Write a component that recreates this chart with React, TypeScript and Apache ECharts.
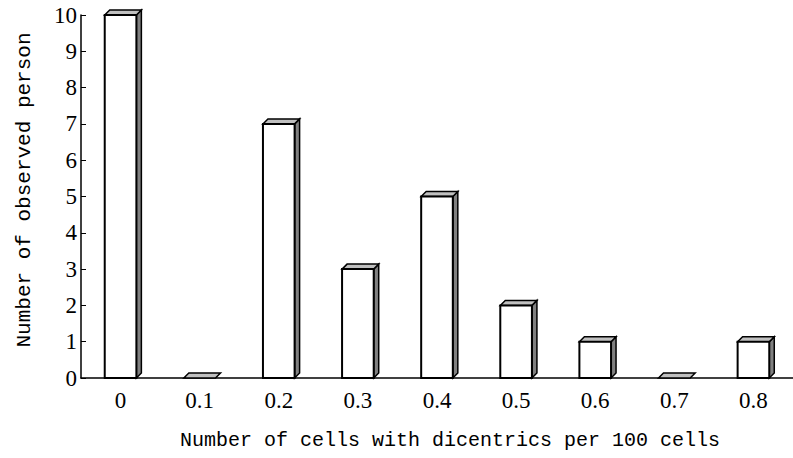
import React, { useEffect, useRef } from "react";
import * as echarts from "echarts";

const categories = ["0", "0.1", "0.2", "0.3", "0.4", "0.5", "0.6", "0.7", "0.8"];
const persons = [10, 0, 7, 3, 5, 2, 1, 0, 1];
const yTicks = [0, 1, 2, 3, 4, 5, 6, 7, 8, 9, 10];
const xTitle = "Number of cells with dicentrics per 100 cells";
const yTitle = "Number of observed person";

const FONT = "'Liberation Mono', 'DejaVu Sans Mono', monospace";
const TICKFONT = "'Liberation Serif', 'DejaVu Serif', serif";

export default function App() {
  const ref = useRef<HTMLDivElement>(null);
  useEffect(() => {
    document.body.style.margin = "0";
    const chart = echarts.init(ref.current!, undefined, { renderer: "svg" });
    const option: any = {
      animation: false,
      backgroundColor: "#fff",
      grid: { left: 81, top: 15, width: 716, height: 363, containLabel: false },
      xAxis: {
        type: "category",
        data: categories,
        boundaryGap: true,
        axisLine: { lineStyle: { color: "#000", width: 1.5 } },
        axisTick: { inside: true, length: 4, alignWithLabel: false, interval: 0, lineStyle: { color: "#000", width: 1 } },
        axisLabel: { fontFamily: TICKFONT, fontSize: 23, color: "#000", margin: 11, interval: 0 },
        splitLine: { show: false },
      },
      yAxis: {
        type: "value",
        min: yTicks[0],
        max: yTicks[yTicks.length - 1],
        interval: 1,
        axisLine: { show: true, lineStyle: { color: "#000", width: 1.5 } },
        axisTick: { show: true, inside: true, length: 5, lineStyle: { color: "#000", width: 1 } },
        axisLabel: { fontFamily: TICKFONT, fontSize: 23, color: "#000", margin: 4 },
        splitLine: { show: false },
      },
      graphic: [
        {
          type: "text",
          x: 24,
          y: 190,
          rotation: Math.PI / 2,
          style: {
            text: yTitle,
            font: `21px ${FONT}`,
            fill: "#000",
            align: "center",
            verticalAlign: "middle",
          },
        },
        {
          type: "text",
          x: 450,
          y: 440,
          style: {
            text: xTitle,
            font: `20px ${FONT}`,
            fill: "#000",
            align: "center",
            verticalAlign: "middle",
          },
        },
      ],
      series: [
        {
          type: "custom",
          data: persons.map((v, i) => [i, v]),
          encode: { x: 0, y: 1 },
          clip: false,
          renderItem: (params: any, api: any) => {
            const idx = api.value(0);
            const val = api.value(1);
            const base = api.coord([idx, 0]);
            const top = api.coord([idx, val]);
            const band = api.size([1, 0])[0];
            const w = band * 0.4;
            const x0 = base[0] - w / 2;
            const x1 = base[0] + w / 2;
            const yb = base[1];
            const yt = top[1];
            const d = 5;
            const children: any[] = [];
            if (yb - yt > 0.5) {
              children.push({
                type: "polygon",
                shape: { points: [[x1, yb], [x1 + d, yb - d], [x1 + d, yt - d], [x1, yt]] },
                style: { fill: "#808080", stroke: "#000", lineWidth: 1.5 },
              });
            }
            children.push({
              type: "polygon",
              shape: { points: [[x0, yt], [x1, yt], [x1 + d, yt - d], [x0 + d, yt - d]] },
              style: { fill: "#c0c0c0", stroke: "#000", lineWidth: 1.5 },
            });
            if (yb - yt > 0.5) {
              children.push({
                type: "rect",
                shape: { x: x0, y: yt, width: w, height: yb - yt },
                style: { fill: "#fff", stroke: "#000", lineWidth: 2 },
              });
            }
            return { type: "group", children };
          },
        },
      ],
    };
    chart.setOption(option);
    return () => chart.dispose();
  }, []);
  return <div ref={ref} style={{ width: 793, height: 458 }} />;
}
